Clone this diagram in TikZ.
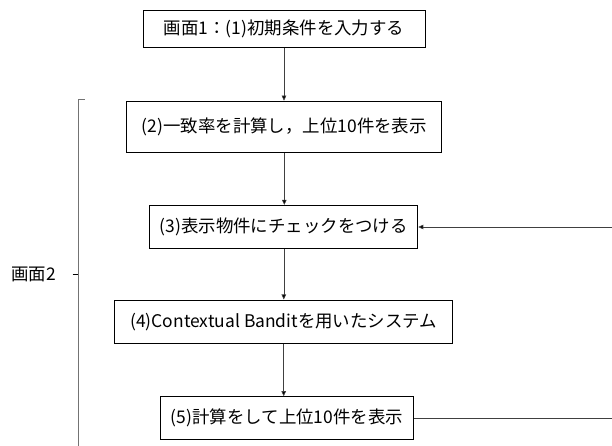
\documentclass[tikz,border=0pt]{standalone}
\usepackage{fontspec}
\setmainfont{Noto Sans CJK JP}
\usetikzlibrary{arrows.meta}
\begin{document}
\begin{tikzpicture}[x=1bp,y=-1bp,
  stepbox/.style={draw=black,line width=0.9bp,inner sep=0pt,font=\fontsize{17.5}{20}\selectfont,anchor=center},
  conn/.style={draw=black!75,line width=0.6bp},
  arr/.style={conn,-{Triangle[length=5bp,width=4.5bp,fill=black]}},
  brk/.style={draw=black!55,line width=0.9bp}]
\useasboundingbox (0,0) rectangle (612,446);
\node[stepbox,minimum width=282bp,minimum height=37bp] (b1) at (284,29.3) {画面1：(1)初期条件を入力する};
\node[stepbox,minimum width=315bp,minimum height=51.7bp] (b2) at (284.3,127) {(2)一致率を計算し，上位10件を表示};
\node[stepbox,minimum width=268bp,minimum height=43.3bp] (b3) at (283.8,227) {(3)表示物件にチェックをつける};
\node[stepbox,minimum width=338bp,minimum height=43.7bp] (b4) at (283.7,321.8) {(4)Contextual Banditを用いたシステム};
\node[stepbox,minimum width=252.7bp,minimum height=42.7bp] (b5) at (287,418) {(5)計算をして上位10件を表示};
\node[font=\fontsize{17.5}{20}\selectfont,anchor=center] (lab) at (33.5,274.3) {画面2};
\coordinate (r5) at (618,418);
\coordinate (r3) at (618,227);
\coordinate (bt) at (78.3,99.5);
\coordinate (bb) at (78.3,447);
\coordinate (bh) at (84.5,99.5);
\coordinate (bm) at (78.3,274.3);
\coordinate (bk) at (72.7,274.3);
\draw[arr] (b1.south) -- (b1.south |- b2.north);
\draw[arr] (b2.south) -- (b2.south |- b3.north);
\draw[arr] (b3.south) -- (b3.south |- b4.north);
\draw[arr] (b4.south) -- (b4.south |- b5.north);
\draw[conn] (b5.east |- r5) -- (r5) -- (r3);
\draw[arr] (r3) -- (b3.east);
\draw[brk] (bh) -- (bt) -- (bb);
\draw[brk,draw=black] (bk) -- (bm);
\end{tikzpicture}
\end{document}
